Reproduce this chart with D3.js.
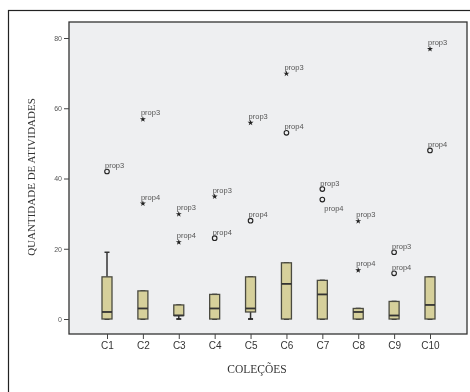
<!DOCTYPE html>
<html>
<head>
<meta charset="utf-8">
<script src="https://cdn.jsdelivr.net/npm/d3@7"></script>
<style>
  body { margin: 0; background: #fff; }
  svg { display: block; will-change: transform; }
</style>
</head>
<body>
<div id="vis"></div>
<script>
// categories and box statistics
const CATEGORIES = ["C1", "C2", "C3", "C4", "C5", "C6", "C7", "C8", "C9", "C10"];
const WHISK_LO = [0, 0, 0, 0, 0, 0, 0, 0, 0, 0];
const Q1 = [0, 0, 1, 0, 2, 0, 0, 0, 0, 0];
const MEDIAN = [2, 3, 1, 3, 3, 10, 7, 2, 1, 4];
const Q3 = [12, 8, 4, 7, 12, 16, 11, 3, 5, 12];
const WHISK_HI = [19, 8, 4, 7, 12, 16, 11, 3, 5, 12];

// outliers (circle) and extremes (star)
const OUT_CAT = ["C1", "C2", "C2", "C3", "C3", "C4", "C4", "C5", "C5", "C6", "C6",
                 "C7", "C7", "C8", "C8", "C9", "C9", "C10", "C10"];
const OUT_VAL = [42, 57, 33, 30, 22, 35, 23, 56, 28, 70, 53, 37, 34, 28, 14, 19, 13, 77, 48];
const OUT_SHAPE = ["o", "*", "*", "*", "*", "*", "o", "*", "o", "*", "o",
                   "o", "o", "*", "*", "o", "o", "*", "o"];
const OUT_LABEL = ["prop3", "prop3", "prop4", "prop3", "prop4", "prop3", "prop4", "prop3", "prop4",
                   "prop3", "prop4", "prop3", "prop4", "prop3", "prop4", "prop3", "prop4", "prop3", "prop4"];

const Y_TICKS = [0, 20, 40, 60, 80];

const FRAME_WIDTH = 470;
const FRAME_HEIGHT = 392;
const PLOT = {left: 69, right: 467, top: 22, bottom: 334};

const svg = d3.select("#vis")
              .append("svg")
                .attr("width", FRAME_WIDTH)
                .attr("height", FRAME_HEIGHT);

// outer frame (runs off the right and bottom)
svg.append("rect")
   .attr("x", 8.5).attr("y", 10.5)
   .attr("width", 480).attr("height", 400)
   .attr("fill", "none")
   .attr("stroke", "#222")
   .attr("stroke-width", 1.2);

// scales
const X_SCALE = d3.scalePoint()
                  .domain(CATEGORIES)
                  .range([107, 430]);

const Y_SCALE = d3.scaleLinear()
                  .domain([0, 80])
                  .range([319, 38]);

// plot background
svg.append("rect")
   .attr("x", PLOT.left).attr("y", PLOT.top)
   .attr("width", PLOT.right - PLOT.left)
   .attr("height", PLOT.bottom - PLOT.top)
   .attr("fill", "#eeeff1")
   .attr("stroke", "#333")
   .attr("stroke-width", 1.3);

// y axis ticks + labels
const yAxis = svg.append("g")
   .attr("transform", "translate(" + PLOT.left + ",0)")
   .call(d3.axisLeft(Y_SCALE).tickValues(Y_TICKS).tickSize(5).tickPadding(2));
yAxis.select(".domain").remove();
yAxis.selectAll("line").attr("stroke", "#444");
yAxis.selectAll("text")
     .attr("font-family", "Liberation Sans, Arial, sans-serif")
     .attr("font-size", "7px")
     .attr("fill", "#555");

// x axis ticks + labels
const xAxis = svg.append("g")
   .attr("transform", "translate(0," + PLOT.bottom + ")")
   .call(d3.axisBottom(X_SCALE).tickSize(5).tickPadding(3));
xAxis.select(".domain").remove();
xAxis.selectAll("line").attr("stroke", "#444");
xAxis.selectAll("text")
     .attr("font-family", "Liberation Sans, Arial, sans-serif")
     .attr("font-size", "10px")
     .attr("fill", "#333");

// boxes
const BOX_W = 10;
const boxes = svg.selectAll(".box")
   .data(CATEGORIES)
   .enter()
   .append("g")
   .attr("class", "box");

// whiskers
boxes.append("line")
   .attr("x1", (d) => X_SCALE(d)).attr("x2", (d) => X_SCALE(d))
   .attr("y1", (d, i) => Y_SCALE(WHISK_HI[i]))
   .attr("y2", (d, i) => Y_SCALE(Q3[i]))
   .attr("stroke", "#333").attr("stroke-width", 1.5);
boxes.append("line")
   .attr("x1", (d) => X_SCALE(d)).attr("x2", (d) => X_SCALE(d))
   .attr("y1", (d, i) => Y_SCALE(WHISK_LO[i]))
   .attr("y2", (d, i) => Y_SCALE(Q1[i]))
   .attr("stroke", "#333").attr("stroke-width", 1.5);
// caps
boxes.append("line")
   .attr("x1", (d) => X_SCALE(d) - 2.5).attr("x2", (d) => X_SCALE(d) + 2.5)
   .attr("y1", (d, i) => Y_SCALE(WHISK_HI[i]))
   .attr("y2", (d, i) => Y_SCALE(WHISK_HI[i]))
   .attr("stroke", "#333").attr("stroke-width", 1.5);
boxes.append("line")
   .attr("x1", (d) => X_SCALE(d) - 2.5).attr("x2", (d) => X_SCALE(d) + 2.5)
   .attr("y1", (d, i) => Y_SCALE(WHISK_LO[i]))
   .attr("y2", (d, i) => Y_SCALE(WHISK_LO[i]))
   .attr("stroke", "#222").attr("stroke-width", 1.8);

// box body
boxes.append("rect")
   .attr("x", (d) => X_SCALE(d) - BOX_W / 2)
   .attr("y", (d, i) => Y_SCALE(Q3[i]))
   .attr("width", BOX_W)
   .attr("height", (d, i) => Y_SCALE(Q1[i]) - Y_SCALE(Q3[i]))
   .attr("fill", "#d6d09b")
   .attr("stroke", "#4a4a40")
   .attr("stroke-width", 1.3);

// median
boxes.append("line")
   .attr("x1", (d) => X_SCALE(d) - BOX_W / 2).attr("x2", (d) => X_SCALE(d) + BOX_W / 2)
   .attr("y1", (d, i) => Y_SCALE(MEDIAN[i]))
   .attr("y2", (d, i) => Y_SCALE(MEDIAN[i]))
   .attr("stroke", "#333").attr("stroke-width", 1.8);

// outliers
const outliers = OUT_VAL.map((v, i) => ({
  cat: OUT_CAT[i], value: v, shape: OUT_SHAPE[i], label: OUT_LABEL[i]
}));

svg.selectAll(".outCircle")
   .data(outliers.filter((d) => d.shape === "o"))
   .enter()
   .append("circle")
   .attr("cx", (d) => X_SCALE(d.cat))
   .attr("cy", (d) => Y_SCALE(d.value))
   .attr("r", 2.3)
   .attr("fill", "none")
   .attr("stroke", "#222")
   .attr("stroke-width", 1.1);

svg.selectAll(".outStar")
   .data(outliers.filter((d) => d.shape === "*"))
   .enter()
   .append("path")
   .attr("d", d3.symbol().type(d3.symbolStar).size(11))
   .attr("transform", (d) => "translate(" + X_SCALE(d.cat) + "," + (Y_SCALE(d.value) + 0.5) + ")")
   .attr("fill", "#222");

svg.selectAll(".outLabel")
   .data(outliers)
   .enter()
   .append("text")
   .attr("x", (d) => X_SCALE(d.cat) + (d.cat === "C7" && d.label === "prop4" ? 2 : -2))
   .attr("y", (d) => Y_SCALE(d.value) + (d.cat === "C7" && d.label === "prop4" ? 11 : -3.5))
   .attr("font-family", "Liberation Sans, Arial, sans-serif")
   .attr("font-size", "7.5px")
   .attr("fill", "#555")
   .text((d) => d.label);

// axis titles
svg.append("text")
   .attr("x", 257)
   .attr("y", 373)
   .attr("text-anchor", "middle")
   .attr("font-family", "Liberation Serif, Times New Roman, serif")
   .attr("font-size", "11.5px")
   .attr("fill", "#333")
   .text("COLEÇÕES");

svg.append("text")
   .attr("transform", "translate(35,177) rotate(-90)")
   .attr("text-anchor", "middle")
   .attr("font-family", "Liberation Serif, Times New Roman, serif")
   .attr("font-size", "11px")
   .attr("fill", "#333")
   .text("QUANTIDADE DE ATIVIDADES");
</script>
</body>
</html>
